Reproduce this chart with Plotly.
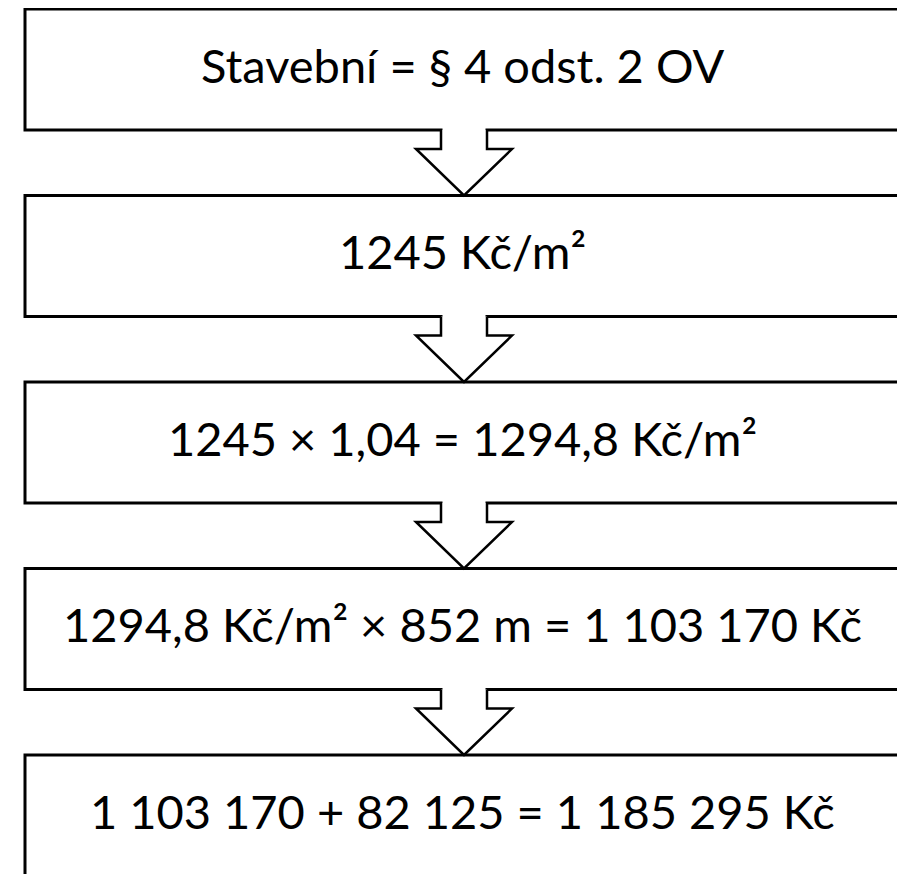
import plotly.graph_objects as go

# ---- data: flowchart step labels ----
steps = [
    "Stavební = § 4 odst. 2 OV",
    "1245 Kč/m²",
    "1245 × 1,04 = 1294,8 Kč/m²",
    "1294,8 Kč/m² × 852 m = 1 103 170 Kč",
    "1 103 170 + 82 125 = 1 185 295 Kč",
]

# ---- layout constants (page pixels) ----
W, H = 905, 874
PAGE_OFF = 8            # default body margin of the html page
BOX_X0, BOX_X1 = 25, 900
BOX_TOP0 = 9
BOX_STEP = 186.5
BOX_H = 121
ARROW_CX = 464
SHAFT_HW = 23
HEAD_HW = 48
SHAFT_LEN = 19
FONT = "Lato"
FONT_SIZE = 47
TEXT_SHIFT = 5

fig = go.Figure()
shapes = []
annotations = []

for i, label in enumerate(steps):
    top = BOX_TOP0 + i * BOX_STEP
    bot = top + BOX_H
    shapes.append(dict(type="rect", xref="x", yref="y",
                       x0=BOX_X0, x1=BOX_X1, y0=top, y1=bot,
                       line=dict(color="black", width=3), fillcolor="white",
                       layer="above"))
    annotations.append(dict(x=(BOX_X0 + BOX_X1) / 2, y=(top + bot) / 2,
                            xref="x", yref="y", text=label, showarrow=False,
                            xanchor="center", yanchor="middle", yshift=TEXT_SHIFT,
                            font=dict(family=FONT, size=FONT_SIZE, color="black")))

for i in range(len(steps) - 1):
    yb = BOX_TOP0 + i * BOX_STEP + BOX_H
    yn = BOX_TOP0 + (i + 1) * BOX_STEP
    # white patch that breaks the box border under the arrow shaft
    shapes.append(dict(type="rect", xref="x", yref="y",
                       x0=ARROW_CX - SHAFT_HW + 1.5, x1=ARROW_CX + SHAFT_HW - 1.5,
                       y0=yb - 2.5, y1=yb + 2.5,
                       line=dict(width=0), fillcolor="white", layer="above"))
    xs0, xs1 = ARROW_CX - SHAFT_HW, ARROW_CX + SHAFT_HW
    xh0, xh1 = ARROW_CX - HEAD_HW, ARROW_CX + HEAD_HW
    ys = yb + SHAFT_LEN
    path = (f"M {xs0},{yb} L {xs0},{ys} L {xh0},{ys} L {ARROW_CX},{yn} "
            f"L {xh1},{ys} L {xs1},{ys} L {xs1},{yb}")
    shapes.append(dict(type="path", xref="x", yref="y", path=path,
                       line=dict(color="black", width=2.5), fillcolor="white",
                       layer="above"))

fig.update_layout(
    width=W - PAGE_OFF, height=H - PAGE_OFF,
    margin=dict(l=0, r=0, t=0, b=0),
    paper_bgcolor="white", plot_bgcolor="white",
    xaxis=dict(range=[PAGE_OFF, W], visible=False, fixedrange=True),
    yaxis=dict(range=[H, PAGE_OFF], visible=False, fixedrange=True),
    shapes=shapes,
    annotations=annotations,
    showlegend=False,
)

fig.write_html("out.html", config={"displayModeBar": False})
